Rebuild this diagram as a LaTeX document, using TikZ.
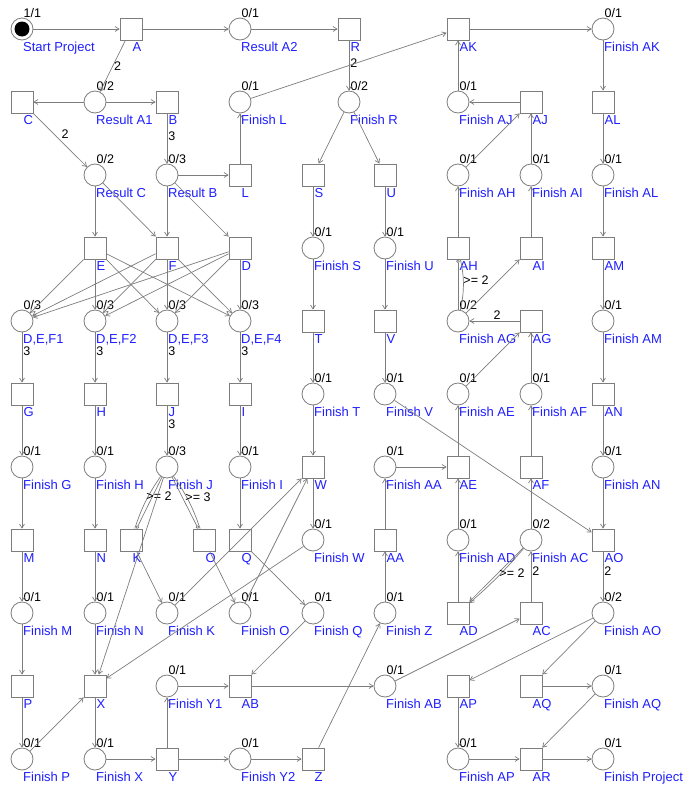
\documentclass[tikz,border=0pt]{standalone}
\usepackage{fontspec}
\setmainfont{Liberation Sans}
\usetikzlibrary{arrows.meta}
\definecolor{ngray}{RGB}{125,125,125}
\definecolor{egray}{RGB}{125,125,125}
\definecolor{nblue}{RGB}{30,30,255}
\newcommand\mkpl[5]{%
 \node[pl] (#1) at (#2,#3) {};
 \node[nlab] (#1-lab) at ({#2+1},{#3+22.5}) {#4};
 \node[tok] (#1-tok) at ({#2+1.5},{#3-12}) {#5};}
\newcommand\mktr[4]{%
 \node[tr] (#1) at (#2,#3) {};
 \node[nlab] (#1-lab) at ({#2+1.5},{#3+22.5}) {#4};}
\begin{document}
\begin{tikzpicture}[x=1pt,y=-1pt,
 pl/.style={circle, draw=ngray, fill=white, minimum size=22pt, inner sep=0pt, line width=0.8pt},
 tr/.style={rectangle, draw=ngray, fill=white, minimum size=22pt, inner sep=0pt, line width=0.8pt},
 nlab/.style={anchor=base west, inner sep=0pt, text=nblue, font=\fontsize{13}{15}\selectfont},
 tok/.style={anchor=base west, inner sep=0pt, font=\fontsize{12.5}{14}\selectfont},
 wl/.style={inner sep=1pt, font=\fontsize{12.5}{14}\selectfont},
 arc/.style={draw=egray, line width=0.7pt, -{Straight Barb[length=4pt,width=5pt]}},
 tst/.style={draw=egray, line width=0.7pt, -{Circle[open,length=3.5pt,width=3.5pt]}},
 plain/.style={draw=egray, line width=0.7pt}]
\useasboundingbox (0,0) rectangle (687,788);
% row 1
\mkpl{pSP}{22}{29}{Start Project}{1/1}
\fill[black] (22,29) circle (7.5pt);
\mktr{tA}{131}{29}{A}
\mkpl{pRA2}{240}{29}{Result A2}{0/1}
\mktr{tR}{349}{29}{R}
\mktr{tAK}{458}{29}{AK}
\mkpl{pFAK}{603}{29}{Finish AK}{0/1}
% row 2
\mktr{tC}{22}{102}{C}
\mkpl{pRA1}{95}{102}{Result A1}{0/2}
\mktr{tB}{167}{102}{B}
\mkpl{pFL}{240}{102}{Finish L}{0/1}
\mkpl{pFR}{349}{102}{Finish R}{0/2}
\mkpl{pFAJ}{458}{102}{Finish AJ}{0/1}
\mktr{tAJ}{531}{102}{AJ}
\mktr{tAL}{603}{102}{AL}
% row 3
\mkpl{pRC}{95}{175}{Result C}{0/2}
\mkpl{pRB}{167}{175}{Result B}{0/3}
\mktr{tL}{240}{175}{L}
\mktr{tS}{313}{175}{S}
\mktr{tU}{385}{175}{U}
\mkpl{pFAH}{458}{175}{Finish AH}{0/1}
\mkpl{pFAI}{531}{175}{Finish AI}{0/1}
\mkpl{pFAL}{603}{175}{Finish AL}{0/1}
% row 4
\mktr{tE}{95}{248}{E}
\mktr{tF}{167}{248}{F}
\mktr{tD}{240}{248}{D}
\mkpl{pFS}{313}{248}{Finish S}{0/1}
\mkpl{pFU}{385}{248}{Finish U}{0/1}
\mktr{tAH}{458}{248}{AH}
\mktr{tAI}{531}{248}{AI}
\mktr{tAM}{603}{248}{AM}
% row 5
\mkpl{pD1}{22}{321}{D,E,F1}{0/3}
\mkpl{pD2}{95}{321}{D,E,F2}{0/3}
\mkpl{pD3}{167}{321}{D,E,F3}{0/3}
\mkpl{pD4}{240}{321}{D,E,F4}{0/3}
\mktr{tT}{313}{321}{T}
\mktr{tV}{385}{321}{V}
\mkpl{pFAG}{458}{321}{Finish AG}{0/2}
\mktr{tAG}{531}{321}{AG}
\mkpl{pFAM}{603}{321}{Finish AM}{0/1}
% row 6
\mktr{tG}{22}{394}{G}
\mktr{tH}{95}{394}{H}
\mktr{tJ}{167}{394}{J}
\mktr{tI}{240}{394}{I}
\mkpl{pFT}{313}{394}{Finish T}{0/1}
\mkpl{pFV}{385}{394}{Finish V}{0/1}
\mkpl{pFAE}{458}{394}{Finish AE}{0/1}
\mkpl{pFAF}{531}{394}{Finish AF}{0/1}
\mktr{tAN}{603}{394}{AN}
% row 7
\mkpl{pFG}{22}{467}{Finish G}{0/1}
\mkpl{pFH}{95}{467}{Finish H}{0/1}
\mkpl{pFJ}{167}{467}{Finish J}{0/3}
\mkpl{pFI}{240}{467}{Finish I}{0/1}
\mktr{tW}{313}{467}{W}
\mkpl{pFAA}{385}{467}{Finish AA}{0/1}
\mktr{tAE}{458}{467}{AE}
\mktr{tAF}{531}{467}{AF}
\mkpl{pFAN}{603}{467}{Finish AN}{0/1}
% row 8
\mktr{tM}{22}{540}{M}
\mktr{tN}{95}{540}{N}
\mktr{tK}{131}{540}{K}
\mktr{tO}{204}{540}{O}
\mktr{tQ}{240}{540}{Q}
\mkpl{pFW}{313}{540}{Finish W}{0/1}
\mktr{tAA}{385}{540}{AA}
\mkpl{pFAD}{458}{540}{Finish AD}{0/1}
\mkpl{pFAC}{531}{540}{Finish AC}{0/2}
\mktr{tAO}{603}{540}{AO}
% row 9
\mkpl{pFM}{22}{613}{Finish M}{0/1}
\mkpl{pFN}{95}{613}{Finish N}{0/1}
\mkpl{pFK}{167}{613}{Finish K}{0/1}
\mkpl{pFO}{240}{613}{Finish O}{0/1}
\mkpl{pFQ}{313}{613}{Finish Q}{0/1}
\mkpl{pFZ}{385}{613}{Finish Z}{0/1}
\mktr{tAD}{458}{613}{AD}
\mktr{tAC}{531}{613}{AC}
\mkpl{pFAO}{603}{613}{Finish AO}{0/2}
% row 10
\mktr{tP}{22}{686}{P}
\mktr{tX}{95}{686}{X}
\mkpl{pFY1}{167}{686}{Finish Y1}{0/1}
\mktr{tAB}{240}{686}{AB}
\mkpl{pFAB}{385}{686}{Finish AB}{0/1}
\mktr{tAP}{458}{686}{AP}
\mktr{tAQ}{531}{686}{AQ}
\mkpl{pFAQ}{603}{686}{Finish AQ}{0/1}
% row 11
\mkpl{pFP}{22}{759}{Finish P}{0/1}
\mkpl{pFX}{95}{759}{Finish X}{0/1}
\mktr{tY}{167}{759}{Y}
\mkpl{pFY2}{240}{759}{Finish Y2}{0/1}
\mktr{tZ}{313}{759}{Z}
\mkpl{pFAP}{458}{759}{Finish AP}{0/1}
\mktr{tAR}{531}{759}{AR}
\mkpl{pFPr}{603}{759}{Finish Project}{0/1}
% ---------- arcs ----------
\draw[arc] (pSP) -- (tA);
\draw[arc] (tA) -- (pRA2);
\draw[arc] (tA) -- node[wl, pos=0.5, anchor=west] {2} (pRA1);
\draw[arc] (pRA2) -- (tR);
\draw[arc] (tR) -- node[wl, pos=0.45, anchor=west] {2} (pFR);
\draw[arc] (pRA1) -- (tC);
\draw[arc] (pRA1) -- (tB);
\draw[arc] (tC) -- node[wl, pos=0.5, anchor=south west] {2} (pRC);
\draw[arc] (tB) -- node[wl, pos=0.45, anchor=west] {3} (pRB);
\draw[arc] (pRB) -- (tL);
\draw[arc] (tL) -- (pFL);
\draw[arc] (pFL) -- (tAK);
\draw[arc] (pFAJ) -- (tAK);
\draw[arc] (tAK) -- (pFAK);
\draw[arc] (pFAK) -- (tAL);
\draw[arc] (tAJ) -- (pFAJ);
\draw[arc] (pFAH) -- (tAJ);
\draw[arc] (pFAI) -- (tAJ);
\draw[arc] (tAL) -- (pFAL);
\draw[arc] (pFR) -- (tS);
\draw[arc] (pFR) -- (tU);
\draw[arc] (pRC) -- (tE);
\draw[arc] (pRC) -- (tF);
\draw[arc] (pRB) -- (tF);
\draw[arc] (pRB) -- (tD);
\foreach \t in {tE,tF,tD}{
  \foreach \p in {pD1,pD2,pD3,pD4}{
    \draw[arc] (\t) -- (\p);}}
\draw[arc] (pD1) -- node[wl, pos=0.38, anchor=west] {3} (tG);
\draw[arc] (pD2) -- node[wl, pos=0.38, anchor=west] {3} (tH);
\draw[arc] (pD3) -- node[wl, pos=0.38, anchor=west] {3} (tJ);
\draw[arc] (pD4) -- node[wl, pos=0.38, anchor=west] {3} (tI);
\draw[arc] (tS) -- (pFS);
\draw[arc] (pFS) -- (tT);
\draw[arc] (tT) -- (pFT);
\draw[arc] (tU) -- (pFU);
\draw[arc] (pFU) -- (tV);
\draw[arc] (tV) -- (pFV);
\draw[arc] (tAH) -- (pFAH);
\draw[arc] (tAI) -- (pFAI);
\draw[arc] (pFAL) -- (tAM);
\draw[arc] (tAM) -- (pFAM);
\draw[arc] (pFAM) -- (tAN);
\draw[arc] (tAN) -- (pFAN);
\draw[arc] (pFAN) -- (tAO);
\draw[arc] (pFV) -- (tAO);
\draw[arc] (tAO) -- node[wl, pos=0.4, anchor=west] {2} (pFAO);
\draw[arc] (tAG) -- node[wl, pos=0.45, anchor=south] {2} (pFAG);
\draw[arc] (pFAE) -- (tAG);
\draw[arc] (pFAF) -- (tAG);
\draw[arc] (pFAG) -- (tAI);
\draw[tst] (pFAG) -- (tAH);
\draw[plain] (pFAG) to[bend right=12] (tAH);
\node[wl] (lAH) at (476,280) {>= 2};
\draw[arc] (tAE) -- (pFAE);
\draw[arc] (tAF) -- (pFAF);
\draw[arc] (pFAA) -- (tAE);
\draw[arc] (pFAD) -- (tAE);
\draw[arc] (pFAC) -- (tAF);
\draw[arc] (tAA) -- (pFAA);
\draw[arc] (pFZ) -- (tAA);
\draw[arc] (tAD) -- (pFAD);
\draw[arc] (tAC) -- node[wl, pos=0.6, anchor=west] {2} (pFAC);
\draw[arc] (pFAC) -- (tAD);
\draw[arc] (pFAC) to[bend left=4] (tAD);
\node[wl] (lAD) at (512,573) {>= 2};
\draw[arc] (pFAB) -- (tAC);
\draw[arc] (tG) -- (pFG);
\draw[arc] (tH) -- (pFH);
\draw[arc] (tJ) -- node[wl, pos=0.38, anchor=west] {3} (pFJ);
\draw[arc] (tI) -- (pFI);
\draw[arc] (pFG) -- (tM);
\draw[arc] (pFH) -- (tN);
\draw[arc] (pFI) -- (tQ);
\draw[tst] (pFJ) -- (tK);
\draw[plain] (pFJ) to[bend right=8] (tK);
\node[wl] (lK) at (159,496) {>= 2};
\draw[tst] (pFJ) -- (tO);
\draw[plain] (pFJ) to[bend left=8] (tO);
\node[wl] (lO) at (198,497) {>= 3};
\draw[arc] (pFJ) -- (tX);
\draw[arc] (pFT) -- (tW);
\draw[arc] (tW) -- (pFW);
\draw[arc] (pFW) -- (tX);
\draw[arc] (pFK) -- (tW);
\draw[arc] (pFO) -- (tW);
\draw[arc] (tK) -- (pFK);
\draw[arc] (tO) -- (pFO);
\draw[arc] (tQ) -- (pFQ);
\draw[arc] (tM) -- (pFM);
\draw[arc] (tN) -- (pFN);
\draw[arc] (pFM) -- (tP);
\draw[arc] (pFN) -- (tX);
\draw[arc] (tP) -- (pFP);
\draw[arc] (pFP) -- (tX);
\draw[arc] (tX) -- (pFX);
\draw[arc] (pFX) -- (tY);
\draw[arc] (tY) -- (pFY1);
\draw[arc] (tY) -- (pFY2);
\draw[arc] (pFY1) -- (tAB);
\draw[arc] (pFQ) -- (tAB);
\draw[arc] (tAB) -- (pFAB);
\draw[arc] (pFY2) -- (tZ);
\draw[arc] (tZ) -- (pFZ);
\draw[arc] (pFAO) -- (tAP);
\draw[arc] (pFAO) -- (tAQ);
\draw[arc] (tAQ) -- (pFAQ);
\draw[arc] (pFAQ) -- (tAR);
\draw[arc] (tAP) -- (pFAP);
\draw[arc] (pFAP) -- (tAR);
\draw[arc] (tAR) -- (pFPr);
\end{tikzpicture}
\end{document}
